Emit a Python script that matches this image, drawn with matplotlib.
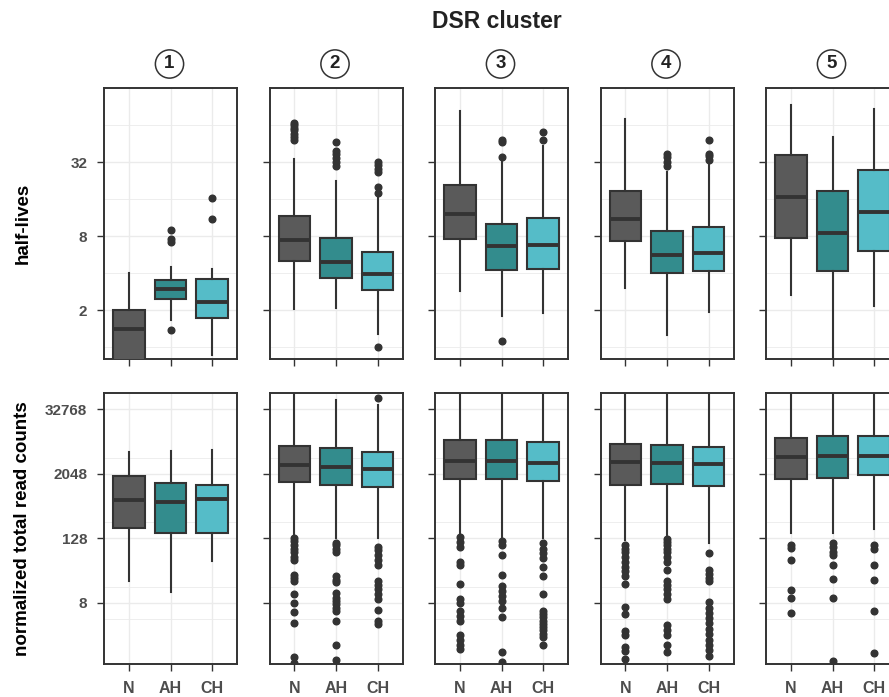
import matplotlib
matplotlib.use("Agg")
import matplotlib.pyplot as plt

# ---- data (log2 units) ----------------------------------------------------
clusters = ["1", "2", "3", "4", "5"]
groups = ["N", "AH", "CH"]

# [whislo, q1, median, q3, whishi] per cluster, per group
hl_box = [
    [[-0.9, -0.5, 0.49, 1.00, 2.00], [0.74, 1.29, 1.56, 1.82, 2.16], [-0.20, 0.79, 1.22, 1.84, 2.11]],
    [[1.02, 2.32, 2.90, 3.55, 5.09], [1.05, 1.86, 2.30, 2.95, 4.49], [0.36, 1.55, 1.98, 2.58, 4.15]],
    [[1.53, 2.92, 3.61, 4.39, 6.38], [0.83, 2.09, 2.73, 3.32, 5.06], [0.93, 2.11, 2.75, 3.48, 5.42]],
    [[1.61, 2.87, 3.47, 4.23, 6.17], [0.34, 1.99, 2.48, 3.15, 4.73], [0.95, 2.05, 2.55, 3.24, 5.14]],
    [[1.42, 2.94, 4.06, 5.20, 6.55], [-0.6, 2.06, 3.09, 4.22, 5.68], [1.11, 2.61, 3.66, 4.79, 6.42]],
]
hl_out = [
    [[], [0.47, 2.85, 2.92, 3.17], [3.47, 4.04]],
    [[5.59, 5.68, 5.77, 5.86, 5.93, 5.99, 6.05], [4.88, 5.00, 5.12, 5.21, 5.30, 5.54],
     [0.0, 4.16, 4.32, 4.73, 4.82, 4.91, 5.00]],
    [[], [0.16, 5.14, 5.53, 5.60], [5.60, 5.81]],
    [[], [4.88, 5.00, 5.14, 5.23], [5.05, 5.17, 5.23, 5.59]],
    [[], [], []],
]

rc_box = [
    [[4.37, 7.64, 9.37, 10.87, 12.36], [3.68, 7.32, 9.25, 10.43, 12.40], [5.59, 7.32, 9.43, 10.30, 12.46]],
    [[7.25, 10.47, 11.54, 12.74, 16.2], [7.00, 10.30, 11.44, 12.60, 15.55], [7.00, 10.16, 11.28, 12.36, 15.26]],
    [[7.27, 10.67, 11.81, 13.11, 16.2], [7.10, 10.67, 11.81, 13.07, 16.2], [7.00, 10.55, 11.69, 12.95, 16.2]],
    [[6.90, 10.32, 11.71, 12.82, 16.2], [7.15, 10.38, 11.69, 12.76, 16.2], [6.70, 10.26, 11.57, 12.66, 16.2]],
    [[7.34, 10.67, 12.01, 13.21, 16.2], [7.34, 10.71, 12.09, 13.33, 16.2], [7.58, 10.91, 12.09, 13.33, 16.2]],
]
rc_out = [
    [[], [], []],
    [[7.01, 6.81, 6.57, 6.36, 6.16, 5.85, 5.65, 4.74, 4.53, 4.33, 3.52, 3.00, 2.40, 1.73, -0.35, -0.75],
     [6.73, 6.57, 6.36, 6.12, 4.63, 4.43, 4.27, 3.62, 3.31, 3.11, 2.91, 2.70, 2.46, 1.85, 0.37, -0.55],
     [15.67, 6.46, 6.26, 5.96, 5.65, 5.35, 4.33, 4.09, 3.82, 3.52, 3.21, 2.54, 1.89, 1.65]],
    [[7.07, 6.77, 6.46, 5.55, 5.35, 4.16, 3.21, 3.00, 2.50, 2.20, 1.89, 0.98, 0.67, 0.37, 0.10],
     [6.81, 6.57, 5.96, 4.74, 4.02, 3.72, 3.41, 3.11, 2.70, 2.09, -0.04, -0.65],
     [6.71, 6.36, 6.06, 5.75, 5.24, 4.63, 3.52, 2.50, 2.30, 2.09, 1.89, 1.69, 1.48, 1.28, 1.08, 0.87, 0.37]],
    [[6.57, 6.36, 6.12, 5.85, 5.55, 5.24, 4.94, 4.63, 4.16, 2.74, 2.30, 1.24, 0.98, 0.26, 0.02, -0.51],
     [6.97, 6.77, 6.57, 6.36, 6.12, 5.85, 5.55, 5.04, 4.33, 4.09, 3.82, 3.52, 3.21, 1.59, 1.28, 0.98, 0.37, -0.04],
     [6.10, 5.04, 4.77, 4.53, 4.33, 3.07, 2.70, 2.34, 2.05, 1.73, 1.38, 1.08, 0.71, 0.37, 0.06, -0.30]],
    [[6.60, 6.40, 5.65, 3.76, 3.27, 2.36],
     [6.73, 6.46, 6.16, 5.96, 5.35, 4.47, 3.31, -0.61],
     [6.60, 6.36, 5.35, 4.39, 2.46, -0.14]],
]

hl_ticks = [1, 3, 5]          # log2 -> 2, 8, 32
rc_ticks = [3, 7, 11, 15]     # log2 -> 8, 128, 2048, 32768

# ---- theme -----------------------------------------------------------------
FILL = ["#5a5a5a", "#338c8d", "#55bcc8"]
INK, GRID, TICKLAB = "#333333", "#ebebeb", "#4d4d4d"
plt.rcParams.update({"font.family": ["Liberation Sans", "DejaVu Sans"],
                     "font.weight": "bold"})

W, H = 889, 697
fig = plt.figure(figsize=(W / 100, H / 100), dpi=100)
fig.patch.set_facecolor("white")

LEFT0, PITCH, PW = 104, 165.5, 133
ROWS = [(88, 359), (393, 664)]


def px_axes(x0, y0, y1):
    return fig.add_axes([x0 / W, 1 - y1 / H, PW / W, (y1 - y0) / H])


def draw_panel(ax, boxes, outs, ylim, ticks, show_labels, show_x):
    stats = []
    for (lo, q1, med, q3, hi), fl in zip(boxes, outs):
        stats.append(dict(whislo=lo, q1=q1, med=med, q3=q3, whishi=hi, fliers=fl))
    art = ax.bxp(stats, positions=range(3), widths=0.76, patch_artist=True,
                 showcaps=False,
                 boxprops=dict(edgecolor=INK, linewidth=1.5),
                 whiskerprops=dict(color=INK, linewidth=1.5),
                 medianprops=dict(color=INK, linewidth=2.8, solid_capstyle="butt"),
                 flierprops=dict(marker="o", markersize=4.8, markerfacecolor=INK,
                                 markeredgecolor=INK, linestyle="none"))
    for patch, c in zip(art["boxes"], FILL):
        patch.set_facecolor(c)
    for a in art["boxes"] + art["whiskers"] + art["medians"] + art["fliers"]:
        a.set_zorder(3)
    ax.set_xlim(-0.6, 2.6)
    ax.set_ylim(*ylim)
    ax.set_yticks(ticks)
    ax.set_yticks([t + 1 for t in ticks] + [ticks[0] - 1], minor=True)
    ax.set_xticks(range(3))
    ax.grid(True, which="major", color=GRID, linewidth=1.0, zorder=0)
    ax.grid(True, which="minor", axis="y", color=GRID, linewidth=0.6, zorder=0)
    ax.set_axisbelow(True)
    for s in ax.spines.values():
        s.set_color(INK)
        s.set_linewidth(1.4)
    ax.tick_params(which="major", length=5, width=1.0, color=INK, labelsize=11,
                   labelcolor=TICKLAB, pad=7)
    ax.tick_params(which="minor", length=0)
    if show_labels:
        ax.set_yticklabels([str(2 ** t) for t in ticks])
    else:
        ax.set_yticklabels([])
    if show_x:
        ax.set_xticklabels(groups, fontsize=11.5, color=TICKLAB)
        ax.tick_params(axis="x", pad=7)
    else:
        ax.set_xticklabels([])


for i, cl in enumerate(clusters):
    x0 = LEFT0 + i * PITCH
    ax_t = px_axes(x0, *ROWS[0])
    draw_panel(ax_t, hl_box[i], hl_out[i], (-0.32, 7.0), hl_ticks, i == 0, False)
    ax_b = px_axes(x0, *ROWS[1])
    draw_panel(ax_b, rc_box[i], rc_out[i], (-0.8, 15.73), rc_ticks, i == 0, True)
    fig.text((x0 + PW / 2 - 1) / W, 1 - 64 / H, cl, ha="center", va="center",
             fontsize=13.5, color="#222222",
             bbox=dict(boxstyle="circle,pad=0.3", fc="white", ec=INK, lw=1.1))

fig.text(23 / W, 1 - (ROWS[0][0] + ROWS[0][1]) / 2 / H, "half-lives", rotation=90,
         ha="center", va="center", fontsize=13.5, color="black")
fig.text(23 / W, 1 - (ROWS[1][0] + ROWS[1][1]) / 2 / H, "normalized total read counts",
         rotation=90, ha="center", va="center", fontsize=13.5, color="black")
fig.text(497 / W, 1 - 21 / H, "DSR cluster", ha="center", va="center",
         fontsize=16.5, color="#222222")

fig.savefig("out.png", dpi=100, facecolor="white")
